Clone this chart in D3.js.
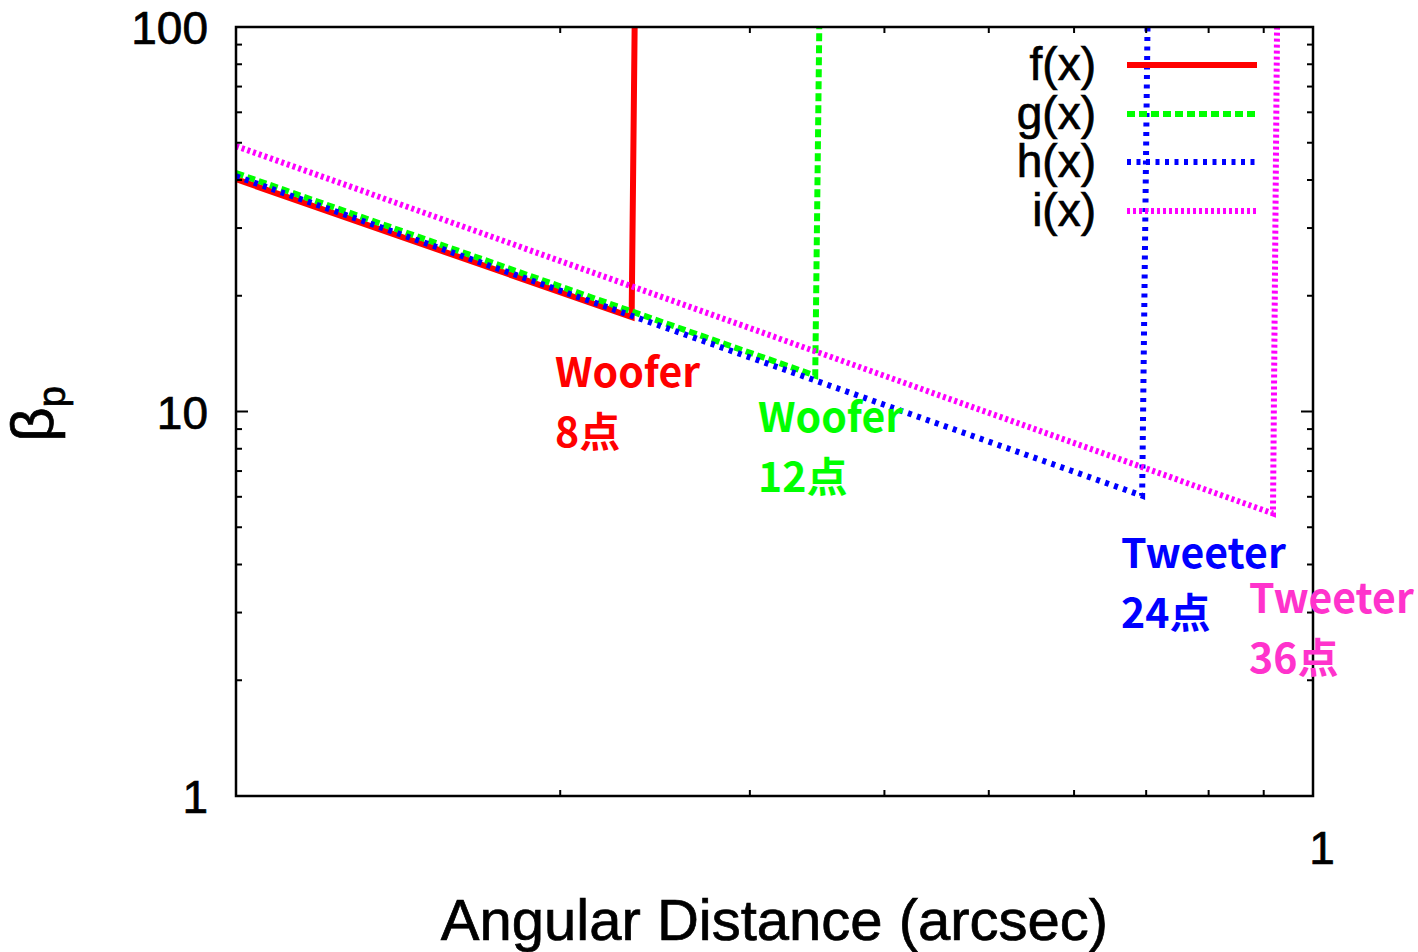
<!DOCTYPE html>
<html>
<head>
<meta charset="utf-8">
<script src="https://cdn.jsdelivr.net/npm/d3@7"></script>
<style>
    body { margin: 0; background: #fff; }
    svg { display: block; }
    .tick-label, .legend-label, .axis-title { font-family: "Liberation Sans", Arial, sans-serif; fill: #000; stroke: #000; stroke-width: 0.7px; }
    .note { font-family: "Noto Sans CJK JP", sans-serif; font-weight: bold; font-size: 41px; }
</style>
</head>
<body>
<div id="svg-container"></div>
<script>
// series: [angular distance (arcsec), beta_p]
var seriesNames = ['f(x)', 'g(x)', 'h(x)', 'i(x)'];
var fPoints = [[0.1, 40.2], [0.233, 17.6], [0.2345, 100]];
var gPoints = [[0.1, 41.7], [0.345, 12.4], [0.348, 100]];
var hPoints = [[0.1, 40.9], [0.694, 6.04], [0.702, 100]];
var iPoints = [[0.1, 49.0], [0.918, 5.43], [0.926, 100]];

var xDomain = [0.1, 1];
var yDomain = [1, 100];
var yMajorTicks = [1, 10, 100];
var yTickLabels = ['1', '10', '100'];
var xMajorTicks = [1];
var xTickLabels = ['1'];

// annotations: [x, y, line1, line2]
var notes = [
    [0.2, 8.1, 'Woofer', '8点'],
    [0.3, 6.6, 'Woofer', '12点'],
    [0.6, 3.6, 'Tweeter', '24点'],
    [0.8, 2.8, 'Tweeter', '36点']
];

;(function () {

    var width = 1418
        , height = 952
        , margin = {left: 236, right: 105, top: 27, bottom: 156}
        , svg
        , x
        , y;

    var styles = [
        {color: '#ff0000', width: 6, dash: null},
        {color: '#00ff00', width: 6, dash: '8,4'},
        {color: '#0000ff', width: 6, dash: '4,5.5'},
        {color: '#ff00ff', width: 6, dash: '3,3'}
    ];
    var noteColors = ['#ff0000', '#00ff00', '#0000ff', '#ff33cc'];

    function minorTicks(domain) {
        var out = [];
        for (var d = domain[0]; d < domain[1] - 1e-9; d *= 10) {
            for (var k = 2; k <= 9; k++) out.push(d * k);
        }
        return out;
    }

    function drawAxes() {
        var x0 = x.range()[0], x1 = x.range()[1];
        var y0 = y.range()[0], y1 = y.range()[1];
        var g = svg.append('g').attr('stroke', '#000').attr('stroke-width', 2);

        // y ticks, both sides
        yMajorTicks.forEach(function (v) {
            g.append('line').attr('x1', x0).attr('x2', x0 + 12).attr('y1', y(v)).attr('y2', y(v));
            g.append('line').attr('x1', x1).attr('x2', x1 - 12).attr('y1', y(v)).attr('y2', y(v));
        });
        minorTicks(yDomain).forEach(function (v) {
            g.append('line').attr('x1', x0).attr('x2', x0 + 6).attr('y1', y(v)).attr('y2', y(v));
            g.append('line').attr('x1', x1).attr('x2', x1 - 6).attr('y1', y(v)).attr('y2', y(v));
        });
        // x ticks, top and bottom
        minorTicks(xDomain).forEach(function (v) {
            g.append('line').attr('x1', x(v)).attr('x2', x(v)).attr('y1', y0).attr('y2', y0 - 6);
            g.append('line').attr('x1', x(v)).attr('x2', x(v)).attr('y1', y1).attr('y2', y1 + 6);
        });

        svg.append('rect')
            .attr('x', x0).attr('y', y1)
            .attr('width', x1 - x0).attr('height', y0 - y1)
            .attr('fill', 'none').attr('stroke', '#000').attr('stroke-width', 2.5);

        svg.selectAll('.ytl')
            .data(yMajorTicks)
            .enter().append('text')
            .attr('class', 'tick-label')
            .attr('x', 208)
            .attr('y', function (d) { return y(d) + 17; })
            .attr('text-anchor', 'end')
            .attr('font-size', 46)
            .text(function (d, i) { return yTickLabels[i]; });

        svg.selectAll('.xtl')
            .data(xMajorTicks)
            .enter().append('text')
            .attr('class', 'tick-label')
            .attr('x', function (d) { return x(d) + 9; })
            .attr('y', 864)
            .attr('text-anchor', 'middle')
            .attr('font-size', 46)
            .text(function (d, i) { return xTickLabels[i]; });

        svg.append('text')
            .attr('class', 'axis-title')
            .attr('x', (x0 + x1) / 2)
            .attr('y', 940)
            .attr('text-anchor', 'middle')
            .attr('font-size', 58)
            .text('Angular Distance (arcsec)');

        var yl = svg.append('text')
            .attr('class', 'axis-title')
            .attr('transform', 'translate(53,414) rotate(-90)')
            .attr('text-anchor', 'middle')
            .attr('font-size', 60);
        yl.append('tspan').text('β');
        yl.append('tspan').attr('font-size', 38).attr('dy', 12).text('p');
    }

    function drawSeries() {
        var line = d3.line()
            .x(function (d) { return x(d[0]); })
            .y(function (d) { return y(d[1]); });

        svg.append('clipPath').attr('id', 'plot-clip')
            .append('rect')
            .attr('x', x.range()[0]).attr('y', y.range()[1])
            .attr('width', x.range()[1] - x.range()[0])
            .attr('height', y.range()[0] - y.range()[1]);

        var all = [fPoints, gPoints, hPoints, iPoints];
        svg.append('g').attr('clip-path', 'url(#plot-clip)')
            .selectAll('path')
            .data(all)
            .enter().append('path')
            .attr('fill', 'none')
            .attr('stroke', function (d, i) { return styles[i].color; })
            .attr('stroke-width', function (d, i) { return styles[i].width; })
            .attr('stroke-dasharray', function (d, i) { return styles[i].dash; })
            .attr('d', line);
    }

    function drawLegend() {
        var rowY = [65, 114, 162, 211];
        var lg = svg.append('g');
        seriesNames.forEach(function (name, i) {
            lg.append('text')
                .attr('class', 'legend-label')
                .attr('x', 1096)
                .attr('y', rowY[i] + 15)
                .attr('text-anchor', 'end')
                .attr('font-size', 46)
                .text(name);
            lg.append('line')
                .attr('x1', 1127).attr('x2', 1257)
                .attr('y1', rowY[i]).attr('y2', rowY[i])
                .attr('stroke', styles[i].color)
                .attr('stroke-width', styles[i].width)
                .attr('stroke-dasharray', styles[i].dash);
        });
    }

    function drawNotes() {
        var noteX = [555, 758, 1121, 1249];
        var noteY = [387, 432, 568, 613];
        notes.forEach(function (n, i) {
            var t = svg.append('text')
                .attr('class', 'note')
                .attr('fill', noteColors[i]);
            t.append('tspan').attr('x', noteX[i]).attr('y', noteY[i]).text(n[2]);
            t.append('tspan').attr('x', noteX[i]).attr('y', noteY[i] + 60).text(n[3]);
        });
    }

    function initialize() {
        svg = d3.select('#svg-container').append('svg')
            .attr('width', width)
            .attr('height', height);

        x = d3.scaleLog().domain(xDomain).range([margin.left, width - margin.right]);
        y = d3.scaleLog().domain(yDomain).range([height - margin.bottom, margin.top]);

        drawSeries();
        drawAxes();
        drawLegend();
        drawNotes();
    }

    initialize();

}());
</script>
</body>
</html>
